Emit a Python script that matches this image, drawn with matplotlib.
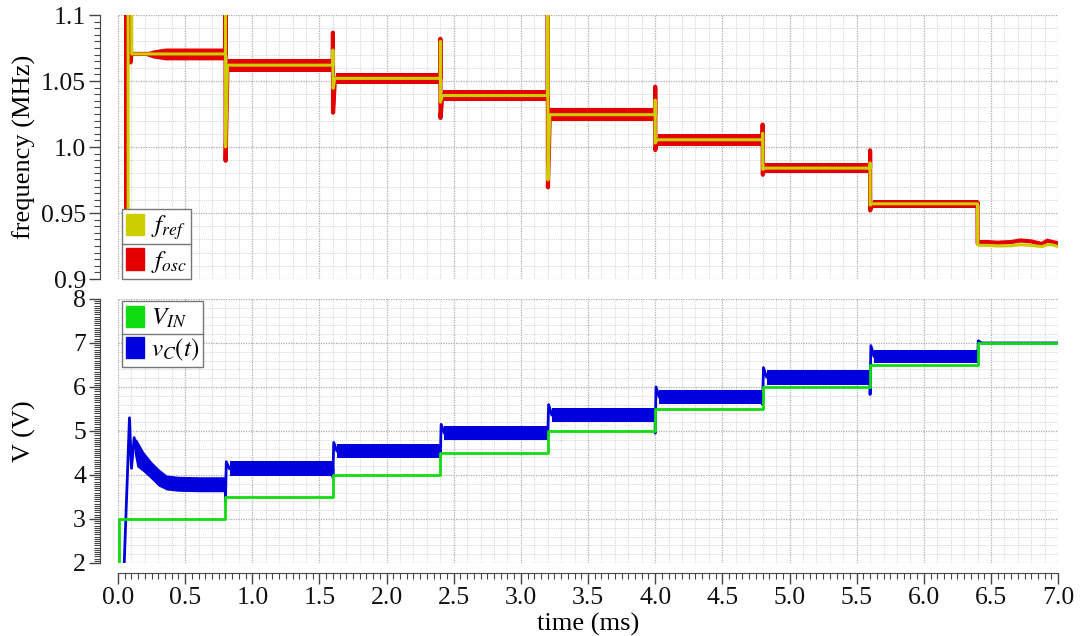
import numpy as np
import matplotlib
matplotlib.use("Agg")
import matplotlib.pyplot as plt
from matplotlib.patches import Patch
from matplotlib.lines import Line2D
from matplotlib.ticker import FixedLocator, MultipleLocator

plt.rcParams['font.family'] = ['Liberation Serif', 'DejaVu Serif']
plt.rcParams['mathtext.fontset'] = 'stix'

# ---------------- data ----------------
step_t = [0.8, 1.6, 2.4, 3.2, 4.0, 4.8, 5.6, 6.4]          # ms

# top panel, MHz
fref_level = [1.0705, 1.062, 1.052, 1.039, 1.0245, 1.0055, 0.984, 0.957]
fref_spike_hi = [1.15, 1.0735, 1.080, 1.15, 1.0356, 1.0104, 0.988, 0.957]
fref_spike_lo = [1.000, 1.0444, 1.034, 0.975, 1.003, 0.983, 0.956, 0.926]
fosc_spike_hi = [1.15, 1.0866, 1.082, 1.15, 1.0457, 1.017, 0.9975, 0.958]
fosc_spike_lo = [0.9896, 1.026, 1.022, 0.9695, 0.9977, 0.979, 0.952, 0.927]
fosc_half = [0.0045, 0.0048, 0.004, 0.0045, 0.0047, 0.0045, 0.0038, 0.003]

start_ref_t = [0.075, 0.075, 0.102, 0.102]
start_ref_f = [0.85, 1.15, 1.15, 1.0705]
start_osc_t = [0.06, 0.06, 0.092, 0.092, 0.1]
start_osc_f = [0.85, 1.15, 1.15, 1.064, 1.0705]
osc_env_t = [0.1, 0.2, 0.26, 0.35, 0.8]
osc_env_half = [0.0008, 0.001, 0.003, 0.0045, 0.0045]

tail_t = [6.47, 6.55, 6.65, 6.72, 6.8, 6.88, 6.92, 6.96, 7.0]
tail_ref = [0.9255, 0.925, 0.9252, 0.926, 0.9255, 0.9245, 0.926, 0.9258, 0.9245]
tail_osc = [0.928, 0.9275, 0.928, 0.9292, 0.9285, 0.9265, 0.929, 0.928, 0.927]

# bottom panel, V
vin_level = [3.0, 3.5, 4.0, 4.5, 5.0, 5.5, 6.0, 6.5, 7.0]
vc_start_t = [0.045, 0.085, 0.10, 0.12]
vc_start_v = [1.9, 5.3, 4.15, 4.85]
vc_env_t = [0.12, 0.14, 0.19, 0.25, 0.3, 0.36, 0.45, 0.6, 0.8]
vc_env_hi = [4.85, 4.8, 4.53, 4.3, 4.15, 4.0, 3.97, 3.96, 3.96]
vc_env_lo = [4.5, 4.19, 4.07, 3.9, 3.75, 3.66, 3.63, 3.62, 3.62]
vc_center = [4.14, 4.54, 4.95, 5.36, 5.77, 6.22, 6.69, 7.0]
vc_half = [0.17, 0.16, 0.165, 0.16, 0.16, 0.17, 0.15, 0.02]
vc_spike_hi = [4.3, 4.74, 5.15, 5.6, 6.0, 6.44, 6.94, 7.05]
vc_spike_lo = [3.39, 3.95, 4.4, 4.85, 4.95, 5.6, 5.83, 6.6]

freq_ticks = [0.9, 0.95, 1.0, 1.05, 1.1]
freq_ticklabels = ["0.9", "0.95", "1.0", "1.05", "1.1"]
v_ticks = [2, 3, 4, 5, 6, 7, 8]
t_ticks = [0.0, 0.5, 1.0, 1.5, 2.0, 2.5, 3.0, 3.5, 4.0, 4.5, 5.0, 5.5, 6.0, 6.5, 7.0]

c_ref, c_osc = '#cdcd00', '#e50000'
c_vin, c_vc = '#10dd10', '#0000dd'

# ---------------- build traces ----------------
ref_t, ref_f = list(start_ref_t), list(start_ref_f)
osc_t, osc_f = list(start_osc_t), list(start_osc_f)
ref_t += [0.8]
ref_f += [fref_level[0]]
osc_t += [0.8]
osc_f += [fref_level[0]]
for i, ts in enumerate(step_t):
    new = fref_level[i + 1] if i < 7 else tail_ref[0]
    new_o = fref_level[i + 1] if i < 7 else tail_osc[0]
    ref_t += [ts, ts + 0.001, ts + 0.015]
    ref_f += [fref_spike_hi[i], fref_spike_lo[i], new]
    osc_t += [ts, ts + 0.001, ts + 0.015]
    osc_f += [fosc_spike_hi[i], fosc_spike_lo[i], new_o]
    if i < 7:
        ref_t.append(step_t[i + 1])
        ref_f.append(new)
        osc_t.append(step_t[i + 1])
        osc_f.append(new_o)
ref_t += tail_t
ref_f += tail_ref
osc_t += tail_t
osc_f += tail_osc

vin_t = [0.005, 0.005]
vin_v = [1.5, vin_level[0]]
for i, ts in enumerate(step_t):
    vin_t += [ts, ts]
    vin_v += [vin_level[i], vin_level[i + 1]]
vin_t.append(7.0)
vin_v.append(vin_level[-1])

vc_t, vc_v = list(vc_start_t), list(vc_start_v)
vc_t += vc_env_t[1:]
vc_v += [(h + l) / 2 for h, l in zip(vc_env_hi[1:], vc_env_lo[1:])]
for i, ts in enumerate(step_t):
    vc_t += [ts, ts + 0.006, ts + 0.03]
    vc_v += [vc_spike_lo[i], vc_spike_hi[i], vc_center[i]]
    tn = step_t[i + 1] if i < 7 else 7.0
    vc_t.append(tn)
    vc_v.append(vc_center[i])

# ---------------- figure ----------------
fig = plt.figure(figsize=(10.81, 6.36), dpi=100)
ax1 = fig.add_axes([0.1092, 0.5613, 0.8696, 0.4151])
ax2 = fig.add_axes([0.1092, 0.1148, 0.8696, 0.4151])

spine_c = '#444444'
for ax in (ax1, ax2):
    ax.set_xlim(0, 7)
    for s in ('top', 'right'):
        ax.spines[s].set_visible(False)
    ax.spines['left'].set_position(('outward', 13))
    ax.spines['left'].set_color(spine_c)
    ax.spines['bottom'].set_color(spine_c)
    ax.tick_params(which='both', direction='out', colors=spine_c, labelcolor='#111111',
                   labelsize=18.5, pad=2)
    ax.tick_params(which='major', length=8, width=1.0)
    ax.tick_params(which='minor', length=4, width=0.8)
    # grid
    for x in np.arange(0, 7.01, 0.1):
        major = abs(x / 0.5 - round(x / 0.5)) < 1e-6
        ax.axvline(x, color='#adadad' if major else '#d5d5d5', lw=0.9 if major else 0.7,
                   ls=(0, (1, 1)), zorder=0)

ax1.set_ylim(0.9, 1.1)
for y in np.arange(0.9, 1.1001, 0.01):
    major = abs(y / 0.05 - round(y / 0.05)) < 1e-6
    ax1.axhline(y, color='#adadad' if major else '#d5d5d5', lw=0.9 if major else 0.7,
                ls=(0, (1, 1)), zorder=0)
ax1.yaxis.set_major_locator(FixedLocator(freq_ticks))
ax1.set_yticklabels(freq_ticklabels)
ax1.yaxis.set_minor_locator(MultipleLocator(0.005))
ax1.spines['bottom'].set_visible(False)
ax1.tick_params(axis='x', which='both', bottom=False, labelbottom=False)

ax2.set_ylim(2, 8)
for y in np.arange(2, 8.001, 0.2):
    major = abs(y - round(y)) < 1e-6
    ax2.axhline(y, color='#adadad' if major else '#d5d5d5', lw=0.9 if major else 0.7,
                ls=(0, (1, 1)), zorder=0)
ax2.yaxis.set_major_locator(FixedLocator(v_ticks))
ax2.yaxis.set_minor_locator(MultipleLocator(0.05))
ax2.xaxis.set_major_locator(FixedLocator(t_ticks))
ax2.set_xticklabels([f"{t:.1f}" for t in t_ticks])
ax2.xaxis.set_minor_locator(MultipleLocator(0.05))
ax2.spines['bottom'].set_position(('outward', 7.2))

# ---------------- top: frequencies ----------------
ax1.fill_between(osc_env_t, np.array(fref_level[0]) - osc_env_half,
                 np.array(fref_level[0]) + osc_env_half, color=c_osc, lw=0, zorder=2)
for k in range(1, 8):
    ta = step_t[k - 1] + 0.02
    tb = step_t[k] if k < 7 else 6.4
    ax1.fill_between([ta, tb], fref_level[k] - fosc_half[k], fref_level[k] + fosc_half[k],
                     color=c_osc, lw=0, zorder=2)
ax1.plot(osc_t, osc_f, color=c_osc, lw=3.0, zorder=3)
ax1.plot(ref_t, ref_f, color=c_ref, lw=2.2, zorder=4)

# ---------------- bottom: voltages ----------------
ax2.fill_between(vc_env_t, vc_env_lo, vc_env_hi, color=c_vc, lw=0, zorder=2)
for k in range(7):
    ta = step_t[k] + 0.03
    tb = step_t[k + 1]
    ax2.fill_between([ta, tb], vc_center[k] - vc_half[k], vc_center[k] + vc_half[k],
                     color=c_vc, lw=0, zorder=2)
ax2.plot(vc_t, vc_v, color=c_vc, lw=2.0, zorder=3)
ax2.plot(vin_t, vin_v, color=c_vin, lw=2.0, zorder=4)

# labels
ax1.set_ylabel("frequency (MHz)", fontsize=19)
ax2.set_ylabel("V (V)", fontsize=19)
ax2.set_xlabel("time (ms)", fontsize=19)
ax1.yaxis.set_label_coords(-0.087, 0.5)
ax2.yaxis.set_label_coords(-0.087, 0.5)
ax2.xaxis.set_label_coords(0.5, -0.19)

# legends
leg_kw = dict(fancybox=False, framealpha=1, edgecolor='#777777', fontsize=18,
              handlelength=0.72, handleheight=0.93, handletextpad=0.25,
              borderpad=0.18, labelspacing=0.25, borderaxespad=0)
leg1 = ax1.legend(handles=[Patch(color=c_ref), Patch(color=c_osc)],
                  labels=[r'$f_{ref}$', r'$f_{osc}$'], loc='lower left',
                  bbox_to_anchor=(0.004, 0.0), **leg_kw)
leg2 = ax2.legend(handles=[Patch(color=c_vin), Patch(color=c_vc)],
                  labels=[r'$V_{IN}$', r'$v_C(t)$'], loc='upper left',
                  bbox_to_anchor=(0.004, 0.992), **leg_kw)
for leg in (leg1, leg2):
    leg.get_frame().set_linewidth(1.0)
    leg.set_zorder(10)

fig.canvas.draw()
inv = fig.transFigure.inverted()
for leg in (leg1, leg2):
    bb = leg.get_window_extent()
    ym = (bb.y0 + bb.y1) / 2
    (x0, y0), (x1, _) = inv.transform([(bb.x0, ym), (bb.x1, ym)])
    fig.add_artist(Line2D([x0, x1], [y0, y0], color='#777777', lw=1.0, zorder=11))

fig.savefig("out.png", dpi=100)
